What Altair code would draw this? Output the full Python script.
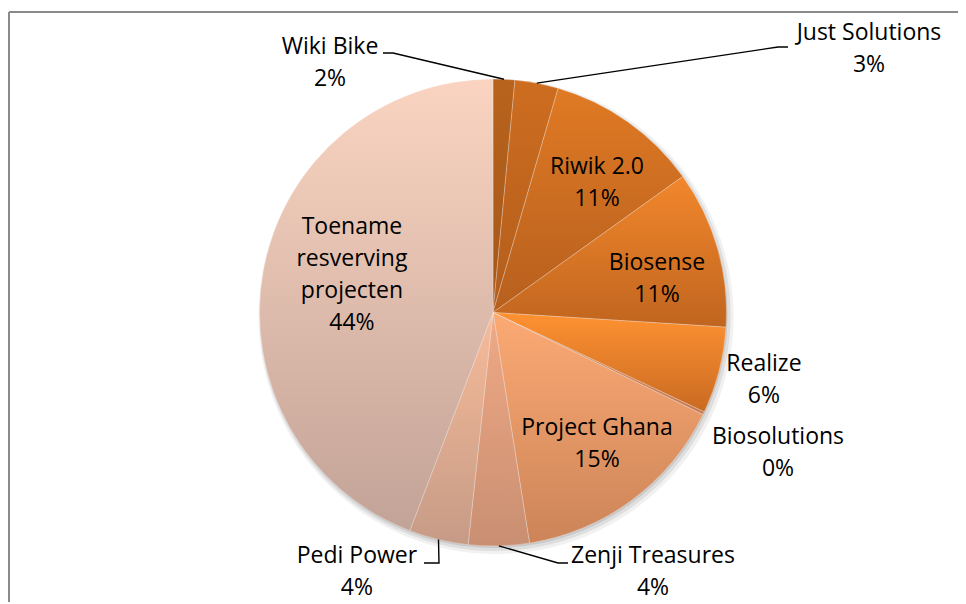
import math
import altair as alt
import pandas as pd

# ---- data ----
categories = ["Wiki Bike", "Just Solutions", "Riwik 2.0", "Biosense", "Realize",
              "Biosolutions", "Project Ghana", "Zenji Treasures", "Pedi Power",
              "Toename resverving projecten"]
shares = [1.5, 3.0, 10.6, 10.9, 6.0, 0.2, 15.3, 4.2, 4.1, 44.2]
display_names = ["Wiki Bike", "Just Solutions", "Riwik 2.0", "Biosense", "Realize",
                 "Biosolutions", "Project Ghana", "Zenji Treasures", "Pedi Power",
                 "Toename\nresverving\nprojecten"]

# ---- styles / layout ----
top_colors = ["#B8631D", "#CE6D20", "#E07A24", "#F2872C", "#FF9232",
              "#D98A5A", "#FCAA74", "#F0A985", "#F7BB9A", "#FAD4C1"]
bottom_colors = ["#A5571A", "#B25D1C", "#B65F1E", "#C0651F", "#C96A22",
              "#C47A55", "#CC8458", "#C98F72", "#C69B86", "#C2A397"]
# placement of each label's first line (angle clockwise from 12 o'clock, distance from centre)
label_angle_deg = [328.45, 53.37, 35.56, 73.2, 100.76, 113.6, 138.0, 146.7, 209.2, 301.2]
label_radius = [311.5, 468.5, 178.8, 171.3, 275.8, 311.0, 155.4, 291.4, 278.9, 164.9]
leader_for = ["Wiki Bike", "Just Solutions", "Zenji Treasures", "Pedi Power"]
leader_elbow = [(-100, -259.5), (285, -265.5), (65, 250.5), (-54, 250.5)]
leader_end = [(-110, -259.5), (295, -265.5), (75, 250.5), (-69, 250.5)]

W, H = 950, 594
CX, CY, R = 485, 304.5, 233.5
FONT = "Open Sans"

df = pd.DataFrame({"cat": categories, "share": shares, "name": display_names})
df["end"] = df["share"].cumsum()
df["start"] = df["end"] - df["share"]
df["mid"] = (df["start"] + df["end"]) / 2
df["label"] = [f"{n}\n{int(v + 0.5)}%" for n, v in zip(df["name"], df["share"])]
df["lab_pos"] = [a / 3.6 for a in label_angle_deg]
df["lab_r"] = label_radius

theta_scale = alt.Scale(domain=[0, 100], range=[0, 2 * math.pi])

layers = []

# drop shadow
shadow = pd.DataFrame({"s": [0], "e": [100]})
for dr, dx, dy, op in [(4, 3, 4, 0.10), (2, 2, 3, 0.16), (0, 1, 2, 0.22)]:
    layers.append(
        alt.Chart(shadow).mark_arc(radius=R + dr, fill="#7a7a7a", opacity=op)
        .encode(theta=alt.Theta("s:Q", scale=theta_scale), theta2="e:Q",
                x=alt.value(CX + dx), y=alt.value(CY + dy))
    )

# slices
for i, c in enumerate(categories):
    grad = alt.Gradient(gradient="linear", x1=0, x2=0, y1=0, y2=1,
                        stops=[alt.GradientStop(offset=0, color=top_colors[i]),
                               alt.GradientStop(offset=1, color=bottom_colors[i])])
    layers.append(
        alt.Chart(df[df["cat"] == c]).mark_arc(radius=R, fill=grad, stroke="#ffffff",
                                               strokeWidth=0.6, strokeOpacity=0.45)
        .encode(theta=alt.Theta("start:Q", scale=theta_scale), theta2="end:Q",
                x=alt.value(CX), y=alt.value(CY))
    )

# leader lines
rows = []
for k, c in enumerate(leader_for):
    m = float(df.loc[df["cat"] == c, "mid"].iloc[0]) * 3.6 * math.pi / 180
    pts = [(CX + R * math.sin(m), CY - R * math.cos(m)),
           (CX + leader_elbow[k][0], CY + leader_elbow[k][1]),
           (CX + leader_end[k][0], CY + leader_end[k][1])]
    for j, (px, py) in enumerate(pts):
        rows.append({"cat": c, "ord": j, "px": px, "py": py})
leaders = pd.DataFrame(rows)
layers.append(
    alt.Chart(leaders).mark_line(color="#000000", strokeWidth=1.4)
    .encode(x=alt.X("px:Q", scale=None, axis=None), y=alt.Y("py:Q", scale=None, axis=None),
            detail="cat:N", order="ord:Q")
)

# labels
layers.append(
    alt.Chart(df).mark_text(font=FONT, fontSize=23, lineBreak="\n", lineHeight=32,
                            align="center", baseline="middle", color="#000000")
    .encode(theta=alt.Theta("lab_pos:Q", scale=theta_scale, stack=False),
            radius=alt.Radius("lab_r:Q", scale=None),
            text="label:N", x=alt.value(CX), y=alt.value(CY))
)

# chart frame (left and top edges visible)
one = pd.DataFrame({"a": [0]})
layers.append(alt.Chart(one).mark_rule(color="#8a8a8a", strokeWidth=2)
              .encode(x=alt.value(1), x2=alt.value(W), y=alt.value(4)))
layers.append(alt.Chart(one).mark_rule(color="#8a8a8a", strokeWidth=2)
              .encode(x=alt.value(1), y=alt.value(4), y2=alt.value(H)))

chart = alt.layer(*layers).properties(
    width=W, height=H, padding=0,
    autosize=alt.AutoSizeParams(type="none"),
    background="#ffffff",
).configure_view(strokeWidth=0)

chart.save("out.html", embed_options={"renderer": "svg", "actions": False})
